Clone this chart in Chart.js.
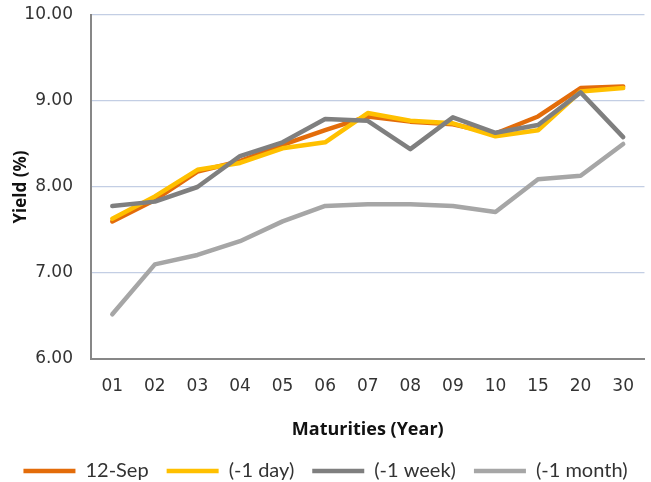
<!DOCTYPE html>
<html lang="en">
<head>
    <meta charset="UTF-8">
    <title>Yield Curve</title>
    <script src="https://cdn.jsdelivr.net/npm/chart.js"></script>
    <style>
        html, body {
            margin: 0;
            padding: 0;
            background: #ffffff;
        }
        #wrap {
            width: 651px;
            height: 482px;
        }
    </style>
</head>
<body>
    <div id="wrap"><canvas id="yieldChart" width="651" height="482"></canvas></div>

    <script>
        // Data
        const maturities = ['01', '02', '03', '04', '05', '06', '07', '08', '09', '10', '15', '20', '30'];
        const seriesNames = ['12-Sep', '(-1 day)', '(-1 week)', '(-1 month)'];
        const sep12    = [7.60, 7.85, 8.18, 8.30, 8.49, 8.66, 8.82, 8.76, 8.73, 8.62, 8.82, 9.15, 9.17];
        const dayAgo   = [7.63, 7.89, 8.20, 8.28, 8.45, 8.52, 8.86, 8.77, 8.74, 8.59, 8.66, 9.11, 9.15];
        const weekAgo  = [7.78, 7.83, 8.00, 8.36, 8.52, 8.79, 8.77, 8.44, 8.81, 8.63, 8.72, 9.10, 8.58];
        const monthAgo = [6.52, 7.10, 7.21, 7.37, 7.60, 7.78, 7.80, 7.80, 7.78, 7.71, 8.09, 8.13, 8.50];
        const yTicks   = [6, 7, 8, 9, 10];

        const colors = ['#E36C0A', '#FFC000', '#7F7F7F', '#A6A6A6'];
        // lower number is drawn on top
        const drawOrder = [2, 1, 0, 3];

        const tickFont = { family: 'DejaVu Sans', size: 17 };
        const textColor = '#333333';

        function makeSet(i, values) {
            return {
                label: seriesNames[i],
                data: values,
                borderColor: colors[i],
                backgroundColor: colors[i],
                borderWidth: 4.5,
                borderCapStyle: 'round',
                borderJoinStyle: 'round',
                pointRadius: 0,
                pointHoverRadius: 0,
                tension: 0,
                order: drawOrder[i]
            };
        }

        const ctx = document.getElementById('yieldChart').getContext('2d');
        const chart = new Chart(ctx, {
            type: 'line',
            data: {
                labels: maturities,
                datasets: [
                    makeSet(0, sep12),
                    makeSet(1, dayAgo),
                    makeSet(2, weekAgo),
                    makeSet(3, monthAgo)
                ]
            },
            options: {
                responsive: false,
                animation: false,
                layout: { padding: { top: 15, right: 0, left: 0, bottom: -9 } },
                plugins: {
                    tooltip: { enabled: false },
                    legend: {
                        position: 'bottom',
                        labels: {
                            usePointStyle: true,
                            pointStyle: 'line',
                            pointStyleWidth: 52,
                            boxHeight: 20,
                            padding: 18,
                            color: textColor,
                            font: { family: 'Lato', size: 20 },
                            sort: (a, b) => a.datasetIndex - b.datasetIndex
                        }
                    }
                },
                scales: {
                    x: {
                        offset: true,
                        grid: { display: false, drawTicks: false },
                        border: { display: true, color: '#878787', width: 2 },
                        ticks: { color: textColor, font: tickFont, padding: 17, maxRotation: 0 },
                        title: {
                            display: true,
                            text: 'Maturities (Year)',
                            color: '#111111',
                            font: { family: 'Open Sans', size: 18, weight: 'bold' },
                            padding: { top: 0, bottom: 2 }
                        },
                        afterFit: (scale) => { scale.height = 84; }
                    },
                    y: {
                        min: 6,
                        max: 10,
                        afterBuildTicks: (scale) => {
                            scale.ticks = yTicks.map(v => ({ value: v }));
                        },
                        grid: { color: '#C3CEE4', lineWidth: 1.3, drawTicks: false },
                        border: { display: true, color: '#878787', width: 2 },
                        ticks: {
                            color: textColor,
                            font: tickFont,
                            padding: 18,
                            callback: (v) => Number(v).toFixed(2)
                        },
                        title: {
                            display: true,
                            text: 'Yield (%)',
                            color: '#111111',
                            font: { family: 'Open Sans', size: 17, weight: 'bold' },
                            padding: { top: 11, bottom: 0 }
                        },
                        afterFit: (scale) => {
                            scale.width = 91;
                            scale.paddingTop = 0;
                            scale.paddingBottom = 0;
                        }
                    }
                }
            }
        });
    </script>
</body>
</html>
